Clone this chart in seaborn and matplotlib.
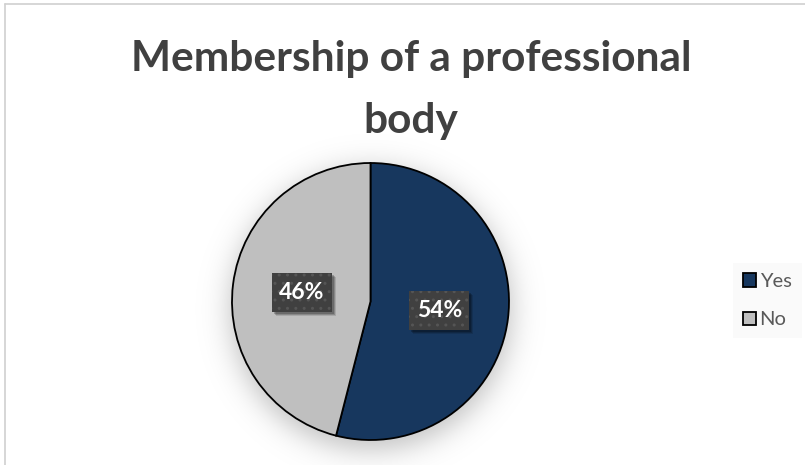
import numpy as np
import matplotlib
matplotlib.use("Agg")
import matplotlib.pyplot as plt
import seaborn as sns
from matplotlib.patches import Rectangle

# Survey answers
categories = ["Yes", "No"]
shares = [54, 46]
pct_labels = ["54%", "46%"]
colors = ["#17375E", "#BFBFBF"]
title_lines = ["Membership of a professional", "body"]

sns.set_theme(style="white")
plt.rcParams["font.family"] = ["Lato", "DejaVu Sans"]

W, H = 805, 465
fig = plt.figure(figsize=(W / 100, H / 100), dpi=100)
fig.patch.set_facecolor("white")

# pie geometry in pixels (origin top-left)
cx, cy, r = 370.5, 301.5, 138.5
pad = 1.05

# background layer: soft drop shadow and chart-area border
bg = fig.add_axes([0, 0, 1, 1], zorder=0)
bg.axis("off")
yy, xx = np.mgrid[0:H, 0:W] + 0.5
dist = np.hypot(xx - cx, yy - (cy + 8))
shade = 0.24 * 0.5 * (1 - np.tanh((dist - r - 2) / 17))
rgba = np.zeros((H, W, 4))
rgba[..., 3] = shade
bg.imshow(rgba, extent=(0, W, H, 0), interpolation="bilinear", aspect="auto")
bg.plot([5, 5], [4, H + 5], color="#d0d0d0", lw=1.2, clip_on=False)
bg.plot([5, W + 5], [4, 4], color="#d0d0d0", lw=1.2, clip_on=False)
bg.set_xlim(0, W)
bg.set_ylim(H, 0)

# pie axes
ax = fig.add_axes([(cx - r * pad) / W, (H - cy - r * pad) / H,
                   2 * r * pad / W, 2 * r * pad / H], zorder=1)
wedges, _ = ax.pie(shares, colors=colors, startangle=90, counterclock=False,
                   radius=1, wedgeprops=dict(edgecolor="black", linewidth=1.3))
ax.set_xlim(-pad, pad)
ax.set_ylim(-pad, pad)
ax.axis("off")

# value labels in dark boxes
bw, bh = 60 / r, 39 / r
for w, txt in zip(wedges, pct_labels):
    mid = np.deg2rad((w.theta1 + w.theta2) / 2)
    x, y = 0.5 * np.cos(mid), 0.5 * np.sin(mid)
    for k, a in ((4, 0.12), (3, 0.18), (2, 0.22)):
        ax.add_patch(Rectangle((x - bw / 2 + k / r, y - bh / 2 - k / r), bw, bh,
                               facecolor="black", alpha=a, lw=0, zorder=3))
    ax.add_patch(Rectangle((x - bw / 2, y - bh / 2), bw, bh,
                           facecolor="#404040", edgecolor="#555555",
                           hatch="..", lw=0, zorder=4))
    ax.text(x, y, txt, ha="center", va="center", color="white",
            fontsize=16.5, fontweight="bold", zorder=5)

# title
for line, base in zip(title_lines, [71, 133]):
    fig.text(411 / W, 1 - base / H, line, ha="center", va="baseline",
             fontsize=30.5, fontweight="bold", color="#404040")

# legend
leg = fig.legend(wedges, categories, loc="upper left",
                 bbox_to_anchor=(733 / W, 1 - 263 / H), borderaxespad=0,
                 fontsize=14.5, handlelength=0.62, handleheight=0.62,
                 handletextpad=0.2, labelspacing=1.05, borderpad=0.5,
                 frameon=True, facecolor="#fafafa", edgecolor="none",
                 fancybox=False, framealpha=1)
for t in leg.get_texts():
    t.set_color("#595959")

fig.savefig("out.png", dpi=100, facecolor="white")
